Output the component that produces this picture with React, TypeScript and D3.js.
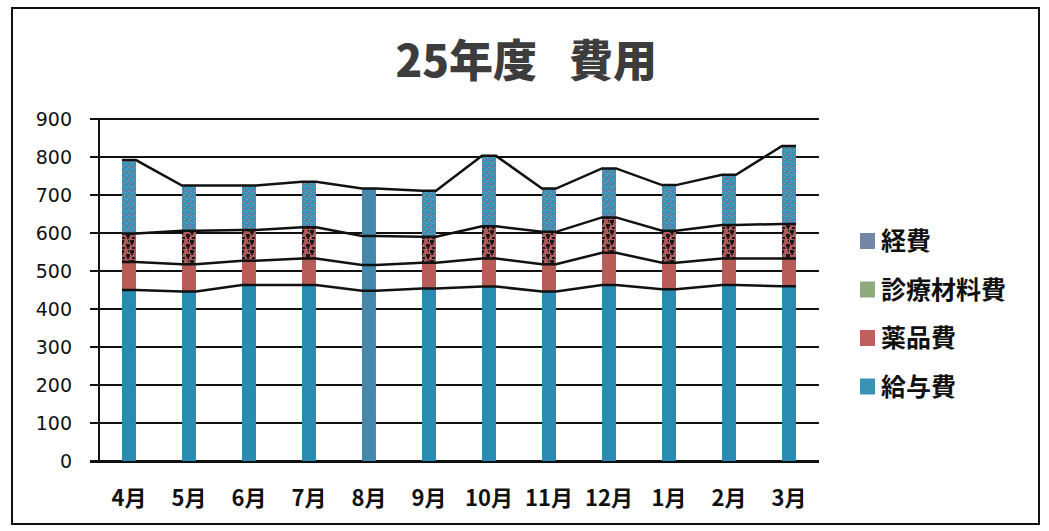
import React, { useEffect, useRef } from "react";
import * as d3 from "d3";

const months = ["4月", "5月", "6月", "7月", "8月", "9月", "10月", "11月", "12月", "1月", "2月", "3月"];
const salary = [450, 446, 463, 463, 448, 454, 459, 446, 463, 452, 463, 460];
const drugs = [74, 72, 64, 70, 68, 68, 74, 72, 85, 70, 70, 73];
const materials = [75, 88, 81, 82, 76, 68, 85, 85, 93, 84, 88, 91];
const expenses = [193, 119, 117, 120, 125, 121, 185, 114, 129, 120, 132, 205];
const seriesNames = ["給与費", "薬品費", "診療材料費", "経費"];
const yTicks = [0, 100, 200, 300, 400, 500, 600, 700, 800, 900];

const JP = "'Noto Sans CJK JP', 'Noto Sans', sans-serif";

export default function App() {
  const ref = useRef<SVGSVGElement>(null);

  useEffect(() => {
    const svg = d3.select(ref.current);
    svg.selectAll("*").remove();

    // patterns that imitate the scanned texture
    const defs = svg.append("defs");
    const pDark = defs.append("pattern").attr("id", "matTex").attr("width", 10).attr("height", 10)
      .attr("patternUnits", "userSpaceOnUse");
    pDark.append("rect").attr("width", 10).attr("height", 10).attr("fill", "#b0595a");
    [[0, 0, 4, 3], [1, 3, 2, 2], [6, 4, 4, 3], [7, 7, 2, 2], [2, 7, 3, 2], [8, 0, 1, 2]].forEach(r =>
      pDark.append("rect").attr("x", r[0]).attr("y", r[1]).attr("width", r[2]).attr("height", r[3]).attr("fill", "#1a1a1a"));
    const pBlue = defs.append("pattern").attr("id", "expTex").attr("width", 6).attr("height", 6)
      .attr("patternUnits", "userSpaceOnUse");
    pBlue.append("rect").attr("width", 6).attr("height", 6).attr("fill", "#3b8fb4");
    [[1, 1], [4, 3], [2, 5], [5, 0]].forEach(r =>
      pBlue.append("rect").attr("x", r[0]).attr("y", r[1]).attr("width", 1).attr("height", 1).attr("fill", "#d08a8a"));

    const barFills = ["#2a8bb2", "#b85c58", "url(#matTex)", "url(#expTex)"];
    const legendFills = ["#3a92b5", "#c0605e", "#8fab7e", "#7585a5"];

    // border
    svg.append("rect").attr("x", 12).attr("y", 8).attr("width", 1027).attr("height", 516)
      .attr("fill", "white").attr("stroke", "#111").attr("stroke-width", 2);

    // title
    svg.append("text").attr("x", 537).attr("y", 77).attr("text-anchor", "end")
      .attr("font-family", JP).attr("font-weight", 900).attr("font-size", 44).attr("fill", "#3d3d3d")
      .text("25年度");
    svg.append("text").attr("x", 569).attr("y", 77)
      .attr("font-family", JP).attr("font-weight", 900).attr("font-size", 44).attr("fill", "#3d3d3d")
      .text("費用");

    const x = d3.scaleBand().domain(months).range([99, 819]).paddingInner(0.767).paddingOuter(0.383);
    const y = d3.scaleLinear().domain([0, 900]).range([461, 119]);

    const table = months.map((m, i) => ({
      month: m,
      給与費: salary[i],
      薬品費: drugs[i],
      診療材料費: materials[i],
      経費: expenses[i]
    }));
    const stacked = d3.stack<any>().keys(seriesNames)(table);

    // gridlines + y ticks
    svg.append("g").selectAll("line").data(yTicks).enter().append("line")
      .attr("x1", 90).attr("x2", 819)
      .attr("y1", d => y(d)).attr("y2", d => y(d))
      .attr("stroke", "#111").attr("stroke-width", 2);

    svg.append("g").selectAll("text").data(yTicks).enter().append("text")
      .attr("x", 72).attr("y", d => y(d) + 7).attr("text-anchor", "end")
      .attr("font-family", "'DejaVu Sans', sans-serif").attr("font-size", 19).attr("fill", "#111")
      .text(d => d);

    // bars
    stacked.forEach((layer, k) => {
      svg.append("g").selectAll("rect").data(layer).enter().append("rect")
        .attr("x", (d: any) => x(d.data.month)!)
        .attr("width", x.bandwidth())
        .attr("y", (d: any) => y(d[1]))
        .attr("height", (d: any) => y(d[0]) - y(d[1]))
        .attr("fill", (d: any) => (d.data.month === "8月" ? "#4489ad" : barFills[k]));
    });

    // series lines
    stacked.forEach(layer => {
      const pts: [number, number][] = [];
      layer.forEach((d: any) => {
        pts.push([x(d.data.month)!, y(d[1])]);
        pts.push([x(d.data.month)! + x.bandwidth(), y(d[1])]);
      });
      svg.append("path").attr("d", d3.line()(pts)!)
        .attr("fill", "none").attr("stroke", "#111").attr("stroke-width", 2.5);
    });

    // axes lines
    svg.append("line").attr("x1", 99).attr("x2", 99).attr("y1", 119).attr("y2", 462)
      .attr("stroke", "#111").attr("stroke-width", 2);
    svg.append("line").attr("x1", 90).attr("x2", 819).attr("y1", 462).attr("y2", 462)
      .attr("stroke", "#111").attr("stroke-width", 2);

    // x labels
    svg.append("g").selectAll("text").data(months).enter().append("text")
      .attr("x", d => x(d)! + x.bandwidth() / 2).attr("y", 506).attr("text-anchor", "middle")
      .attr("font-family", JP).attr("font-weight", 700).attr("font-size", 22).attr("fill", "#111")
      .text(d => d);

    // legend (reverse order, top = 経費)
    const legendOrder = [3, 2, 1, 0];
    const lg = svg.append("g").selectAll("g").data(legendOrder).enter().append("g")
      .attr("transform", (d, i) => "translate(860," + (241 + i * 48.5) + ")");
    lg.append("rect").attr("x", 0).attr("y", -8).attr("width", 15).attr("height", 16)
      .attr("fill", d => legendFills[d]);
    lg.append("text").attr("x", 21).attr("y", 9)
      .attr("font-family", JP).attr("font-weight", 700).attr("font-size", 25).attr("fill", "#111")
      .text(d => seriesNames[d]);
  }, []);

  return (
    <svg ref={ref} width={1049} height={531} style={{ position: "absolute", left: 0, top: 0 }} />
  );
}
